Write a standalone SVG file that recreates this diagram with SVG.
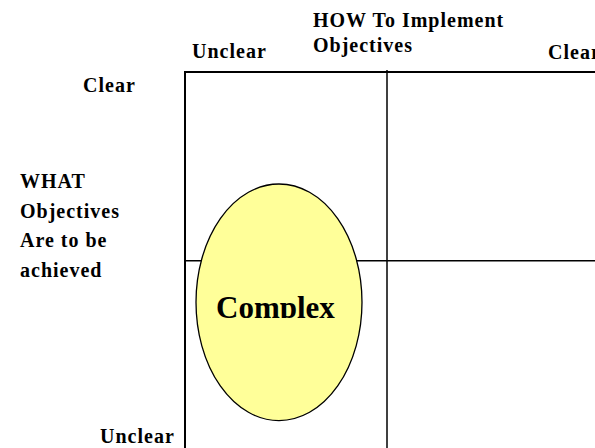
<svg xmlns="http://www.w3.org/2000/svg" width="595" height="448" viewBox="0 0 595 448">
  <style>
    .lbl { font-family: "Liberation Serif", "Times New Roman", serif; font-weight: bold; font-size: 20px; letter-spacing: 1px; fill: #000; }
    .big { font-family: "Liberation Serif", "Times New Roman", serif; font-weight: bold; font-size: 31px; fill: #000; }
    .frame { stroke: #000; stroke-width: 2; fill: none; }
    .div { stroke: #000; stroke-width: 1.5; fill: none; }
  </style>
  <defs>
    <clipPath id="cutText">
      <rect x="0" y="0" width="595" height="318"/>
    </clipPath>
  </defs>
  <rect width="595" height="448" fill="#fff"/>

  <!-- quadrant grid -->
  <g id="grid">
    <path class="frame" d="M185,448 V72 H595"/>
    <line class="div" x1="387" y1="70" x2="387" y2="448"/>
    <line class="div" x1="185" y1="260.7" x2="595" y2="260.7"/>
  </g>

  <!-- axis labels -->
  <g id="how-axis">
    <text class="lbl" x="313" y="27">HOW To Implement</text>
    <text class="lbl" x="313" y="52">Objectives</text>
    <text class="lbl" x="192" y="58">Unclear</text>
    <text class="lbl" x="548" y="59">Clear</text>
  </g>
  <g id="what-axis">
    <text class="lbl" x="83" y="92">Clear</text>
    <text class="lbl" x="20" y="188">WHAT</text>
    <text class="lbl" x="20" y="218">Objectives</text>
    <text class="lbl" x="20" y="247">Are to be</text>
    <text class="lbl" x="20" y="277">achieved</text>
    <text class="lbl" x="100" y="443">Unclear</text>
  </g>

  <!-- complex region -->
  <g id="complex">
    <ellipse cx="279" cy="302.3" rx="83" ry="118.3" fill="#ffff99" stroke="#000" stroke-width="1.3"/>
    <text class="big" x="216" y="317.5" clip-path="url(#cutText)">Complex</text>
  </g>
</svg>
